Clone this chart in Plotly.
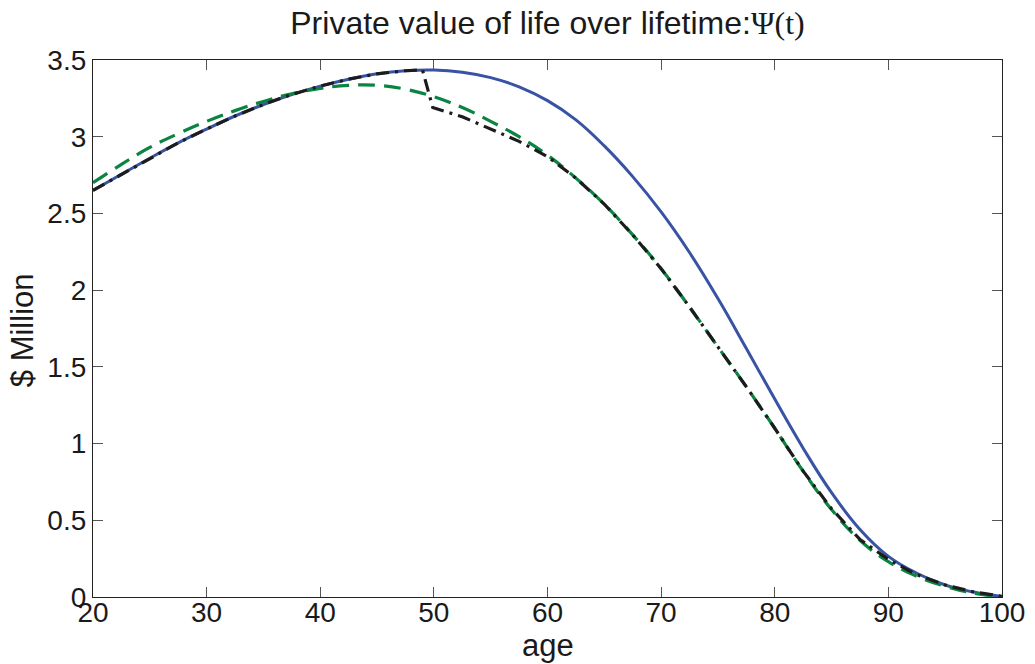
import plotly.graph_objects as go

ages = [20, 22.5, 25, 27.5, 30, 32.5, 35, 37.5, 40, 42.5, 45, 47.5, 50, 52.5, 55, 57.5,
        60, 62.5, 65, 67.5, 70, 72.5, 75, 77.5, 80, 82.5, 85, 87.5, 90, 92.5, 95, 97.5, 100]

psi_blue = [2.65, 2.755, 2.86, 2.96, 3.05, 3.135, 3.21, 3.275, 3.33, 3.375, 3.41, 3.43, 3.435,
            3.42, 3.385, 3.325, 3.235, 3.11, 2.94, 2.74, 2.51, 2.245, 1.945, 1.62, 1.29, 0.97,
            0.68, 0.44, 0.265, 0.155, 0.078, 0.032, 0.003]

psi_green = [2.70, 2.82, 2.93, 3.02, 3.10, 3.17, 3.23, 3.28, 3.315, 3.335, 3.335, 3.31, 3.26,
             3.19, 3.10, 3.00, 2.88, 2.73, 2.56, 2.36, 2.14, 1.89, 1.63, 1.37, 1.10, 0.82, 0.57,
             0.37, 0.23, 0.135, 0.07, 0.025, 0.0]

ages_black = [20, 22.5, 25, 27.5, 30, 32.5, 35, 37.5, 40, 42.5, 45, 47.5, 49, 49.9, 52.5, 55,
              57.5, 60, 62.5, 65, 67.5, 70, 72.5, 75, 77.5, 80, 82.5, 85, 87.5, 90, 92.5, 95,
              97.5, 100]
psi_black = [2.65, 2.755, 2.86, 2.96, 3.05, 3.135, 3.21, 3.275, 3.33, 3.375, 3.41, 3.43, 3.435,
             3.19, 3.13, 3.05, 2.97, 2.87, 2.73, 2.56, 2.36, 2.14, 1.89, 1.63, 1.37, 1.10, 0.82,
             0.575, 0.375, 0.245, 0.145, 0.078, 0.033, 0.004]

x_ticks = [20, 30, 40, 50, 60, 70, 80, 90, 100]
y_ticks = [0, 0.5, 1, 1.5, 2, 2.5, 3, 3.5]
y_tick_labels = ["0", "0.5", "1", "1.5", "2", "2.5", "3", "3.5"]

FONT = "Liberation Sans, Arial, Helvetica, sans-serif"
TXT = "#1a1a1a"

fig = go.Figure()
fig.add_trace(go.Scatter(x=ages, y=psi_blue, mode="lines",
                         line=dict(color="#3953a4", width=3, shape="spline", smoothing=1.2)))
fig.add_trace(go.Scatter(x=ages, y=psi_green, mode="lines",
                         line=dict(color="#0b8442", width=3.2, dash="17px,9px",
                                   shape="spline", smoothing=1.2)))
fig.add_trace(go.Scatter(x=ages_black, y=psi_black, mode="lines",
                         line=dict(color="#1c1c1c", width=3.2, dash="13px,6px,3px,6px")))

axis_common = dict(showgrid=False, zeroline=False, showline=True, linecolor="#222222",
                   linewidth=1.3, mirror="ticks", ticks="inside", ticklen=10,
                   tickcolor="#555555", tickwidth=1.2,
                   tickfont=dict(family=FONT, size=28, color=TXT))

fig.update_xaxes(range=[20, 100], tickvals=x_ticks, ticktext=[str(v) for v in x_ticks],
                 ticklabelstandoff=-10, **axis_common)
fig.update_yaxes(range=[0, 3.5], tickvals=y_ticks, ticktext=y_tick_labels,
                 **axis_common)

# plot area: x 93..1002, y 60..597 (of 1035 x 664)
fig.add_annotation(text="age", xref="paper", yref="paper", x=0.5, y=-0.09,
                   xanchor="center", yanchor="middle", showarrow=False,
                   font=dict(family=FONT, size=31, color=TXT))
fig.add_annotation(text="$ Million", xref="paper", yref="paper", x=-0.078, y=0.497,
                   xanchor="center", yanchor="middle", showarrow=False, textangle=-90,
                   font=dict(family=FONT, size=31, color=TXT))

fig.update_layout(
    width=1035, height=664,
    margin=dict(l=93, r=33, t=60, b=67, autoexpand=False),
    paper_bgcolor="white", plot_bgcolor="white",
    showlegend=False,
    title=dict(text="Private value of life over lifetime:<span style='font-family:Liberation Serif, Times New Roman, serif'>Ψ(t)</span>",
               x=0.5, xref="paper", xanchor="center", y=0.965, yanchor="middle",
               font=dict(family=FONT, size=32, color=TXT)),
)

fig.write_html("out.html", config={"displayModeBar": False},
               post_script="document.body.style.margin='0';document.body.style.overflow='hidden';")
